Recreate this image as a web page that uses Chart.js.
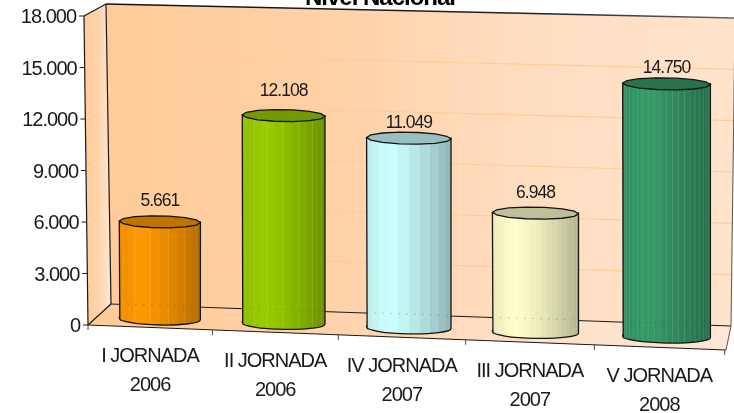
<!DOCTYPE html>
<html>
<head>
<meta charset="utf-8">
<style>html,body{margin:0;padding:0;background:#fff}canvas{display:block}</style>
<script src="https://cdn.jsdelivr.net/npm/chart.js@4/dist/chart.umd.min.js"></script>
</head>
<body>
<canvas id="c" width="734" height="413"></canvas>
<script>
const jornadas = ['I JORNADA', 'II JORNADA', 'IV JORNADA', 'III JORNADA', 'V JORNADA'];
const years = ['2006', '2006', '2007', '2007', '2008'];
const values = [5661, 12108, 11049, 6948, 14750];
const valueLabels = ['5.661', '12.108', '11.049', '6.948', '14.750'];
const barColors = ['#FF9900', '#99CC00', '#CCFFFF', '#FFFFCC', '#339966'];

// styling constants
const FONT = '"Liberation Sans", Arial, sans-serif';
const STRIPS = [14, 16, 12, 24, 44];
const LABEL_LIFT = [21, 24, 15, 20, 16];
const BACK = {tl: [106, 4], tr: [735, 18], bl: [111, 304], br: [731, 326]};

function shade(hex, f) {
  const n = parseInt(hex.slice(1), 16);
  const c = [(n >> 16) & 255, (n >> 8) & 255, n & 255].map(v => Math.round(Math.min(255, v * f)));
  return `rgb(${c[0]},${c[1]},${c[2]})`;
}
function warpX(area, px) {
  const u = (px - area.left) / area.width;
  return px - 18 * u * (1 - u);
}
function frontY(area, x) { // y of the slanted front floor edge
  return area.bottom + (x - area.left) * (350 - 325) / (726 - 88);
}
function frontEdgeX(area, py) { return 84 + (py - area.top) / area.height * 4; }
function line(ctx, pts, w, col) {
  ctx.beginPath();
  pts.forEach((p, i) => i ? ctx.lineTo(p[0], p[1]) : ctx.moveTo(p[0], p[1]));
  ctx.lineWidth = w; ctx.strokeStyle = col; ctx.stroke();
}
function poly(ctx, pts, fill) {
  ctx.beginPath();
  pts.forEach((p, i) => i ? ctx.lineTo(p[0], p[1]) : ctx.moveTo(p[0], p[1]));
  ctx.closePath(); ctx.fillStyle = fill; ctx.fill();
}
function grad(ctx, x0, x1, stops) {
  const g = ctx.createLinearGradient(x0, 0, x1, 0);
  stops.forEach((s, i) => g.addColorStop(i / (stops.length - 1), s));
  return g;
}

const wallsPlugin = {
  id: 'walls',
  afterLayout(chart) {
    chart.titleBlock.left += 34;
  },
  beforeDraw(chart) {
    const ctx = chart.ctx, area = chart.chartArea, xs = chart.scales.x, ys = chart.scales.y;
    ctx.letterSpacing = '-1px';
    ys.getLabelItems().forEach(it => {
      if (it._moved) return; it._moved = true;
      const py = it.options.translation[1];
      it.options.translation[0] += (py - area.top) / area.height * 4;
      it.options.translation[1] += 1.5;
    });
    xs.getLabelItems().forEach(it => {
      if (it._moved) return; it._moved = true;
      const px = it.options.translation[0];
      it.options.translation[0] = warpX(area, px);
      it.options.translation[1] += frontY(area, warpX(area, px)) - area.bottom;
    });
    // walls
    const fl = [frontEdgeX(area, area.top), area.top], bot = [area.left, area.bottom], fr = [726, 350];
    poly(ctx, [fl, BACK.tl, BACK.bl, bot], grad(ctx, 84, 110, ['#FFCC99', '#FFD2A8', '#FFE6D0']));
    poly(ctx, [BACK.tl, BACK.tr, BACK.br, BACK.bl], grad(ctx, 106, 735, ['#FFCC99', '#FFD1A6', '#FFDDC0', '#FFE4CC']));
    poly(ctx, [bot, BACK.bl, BACK.br, fr], grad(ctx, 88, 731, ['#FFCC99', '#FFD1A6', '#FFDFC6', '#FFE6D6']));
    // value grid lines, from the library's own ticks
    ys.ticks.forEach((t, i) => {
      if (t.value === 0 || t.value === ys.max) return;
      const py = ys.getPixelForTick(i), f = (py - area.top) / area.height;
      const a = [frontEdgeX(area, py), py];
      const b = [BACK.tl[0] + f * 5, BACK.tl[1] + f * 300];
      const c = [BACK.tr[0] - f * 4, BACK.tr[1] + f * 308];
      line(ctx, [a, b], 1, '#FFDDBB');
      line(ctx, [b, c], 1.2, '#FFCC99');
    });
    // frame
    const ink = '#1a1a1a';
    line(ctx, [fl, BACK.tl], 1.2, ink);
    line(ctx, [BACK.tl, BACK.bl], 1.2, ink);
    line(ctx, [fl, bot], 1.2, ink);
    line(ctx, [bot, BACK.bl], 1.2, ink);
    line(ctx, [BACK.bl, BACK.br], 1.2, ink);
    line(ctx, [bot, fr], 1.2, ink);
    line(ctx, [fr, BACK.br], 1, '#555');
    line(ctx, [BACK.br, BACK.tr], 1, '#555');
    const g = ctx.createLinearGradient(106, 0, 735, 0);
    g.addColorStop(0, '#111'); g.addColorStop(.7, '#222'); g.addColorStop(1, '#666');
    line(ctx, [BACK.tl, BACK.tr], 1.3, g);
    // tick marks
    ys.ticks.forEach((t, i) => {
      const py = ys.getPixelForTick(i), x = frontEdgeX(area, py);
      line(ctx, [[x - 5, py], [x, py]], 1, ink);
    });
    for (let i = 0; i <= xs.ticks.length; i++) {
      const px = warpX(area, area.left + area.width * i / xs.ticks.length), y = frontY(area, px);
      line(ctx, [[px, y], [px, y + 5]], 1, '#444');
    }
  },
  beforeDatasetDraw(chart, args) {
    const ctx = chart.ctx, area = chart.chartArea;
    args.meta.data.forEach((el, i) => {
      const u = (el.x - area.left) / area.width;
      const cx = warpX(area, el.x) + 10.5 - 7 * u + 15 * Math.max(0, u - 0.7);
      const w = el.width * (0.97 + 0.1 * u);
      const rx = w / 2, ry = 6;
      const baseY = 319 + (cx - 160) * 0.0356;
      const topY = baseY - (area.bottom - el.y);
      const col = barColors[i];
      const tilt = 0.018;
      ctx.save();
      // body
      const body = new Path2D();
      body.moveTo(cx - rx, topY);
      body.lineTo(cx - rx + 0.5, baseY);
      body.ellipse(cx, baseY, rx, ry, tilt, Math.PI, 0, true);
      body.lineTo(cx + rx, topY);
      body.closePath();
      ctx.save();
      ctx.clip(body);
      const n = STRIPS[i];
      for (let s = 0; s < n; s++) {
        const a0 = Math.PI * s / n, a1 = Math.PI * (s + 1) / n;
        const x0 = cx - rx * Math.cos(a0), x1 = cx - rx * Math.cos(a1);
        const m = (x0 + x1) / 2, t = (m - (cx - rx)) / w;
        const f = t < 0.25 ? 0.92 + 0.08 * t / 0.25 : 1 - 0.3 * Math.pow((t - 0.25) / 0.75, 1.4);
        ctx.fillStyle = shade(col, f);
        ctx.fillRect(x0, topY - ry - 2, x1 - x0 + 0.6, baseY - topY + 2 * ry + 6);
        if (s % 2 === 1 && s < n - 1) {
          ctx.fillStyle = 'rgba(255,255,255,0.22)';
          ctx.fillRect(x1 - 0.5, topY - ry, 1, baseY - topY + 2 * ry + 4);
        }
      }
      // back floor line showing through
      ctx.setLineDash([1, 7]);
      const by = BACK.bl[1] + (cx - BACK.bl[0]) * (BACK.br[1] - BACK.bl[1]) / (BACK.br[0] - BACK.bl[0]);
      line(ctx, [[cx - rx, by - 2], [cx + rx, by + 1]], 1, 'rgba(40,40,0,0.4)');
      ctx.restore();
      ctx.lineWidth = 1.3; ctx.strokeStyle = '#141414';
      ctx.stroke(body);
      // top: a faceted ellipse, as the 3D renderer leaves it
      ctx.beginPath();
      const facets = 14;
      for (let k = 0; k < facets; k++) {
        const a = 2 * Math.PI * k / facets;
        const px = cx + rx * Math.cos(a), py = topY + ry * Math.sin(a) + tilt * rx * Math.cos(a);
        k ? ctx.lineTo(px, py) : ctx.moveTo(px, py);
      }
      ctx.closePath();
      ctx.fillStyle = shade(col, 0.75);
      ctx.fill();
      ctx.stroke();
      ctx.restore();
      // value label
      ctx.save();
      ctx.font = '17.5px ' + FONT;
      ctx.fillStyle = '#1a1a1a';
      ctx.textAlign = 'center';
      ctx.textBaseline = 'middle';
      ctx.fillText(valueLabels[i], cx, topY - LABEL_LIFT[i]);
      ctx.restore();
    });
    return false;
  }
};

new Chart(document.getElementById('c'), {
  type: 'bar',
  data: {
    labels: jornadas.map((j, i) => [j, years[i]]),
    datasets: [{data: values, backgroundColor: barColors, categoryPercentage: 1, barPercentage: 0.65}]
  },
  options: {
    responsive: false,
    animation: false,
    layout: {padding: {top: 0, left: 0, right: 8, bottom: 0}},
    plugins: {
      legend: {display: false},
      tooltip: {enabled: false},
      title: {
        display: true,
        text: 'Nivel Nacional',
        color: '#000',
        font: {family: FONT, size: 24, weight: 'bold', lineHeight: 1.2},
        padding: {top: -16, bottom: 3.2}
      }
    },
    scales: {
      x: {
        grid: {display: false, drawTicks: false},
        border: {display: false},
        afterFit(s) { s.height = 88; },
        ticks: {
          autoSkip: false, maxRotation: 0, minRotation: 0, padding: 15, color: '#1a1a1a',
          font: {family: FONT, size: 20, lineHeight: 1.435}
        }
      },
      y: {
        min: 0, max: 18000,
        grid: {display: false, drawTicks: false},
        border: {display: false},
        afterFit(s) { s.width = 88; s.paddingTop = 0; s.paddingBottom = 0; },
        ticks: {
          stepSize: 3000, padding: 12, color: '#1a1a1a',
          font: {family: FONT, size: 20},
          callback: v => v === 0 ? '0' : (v / 1000).toFixed(3)
        }
      }
    }
  },
  plugins: [wallsPlugin]
});
</script>
</body>
</html>
